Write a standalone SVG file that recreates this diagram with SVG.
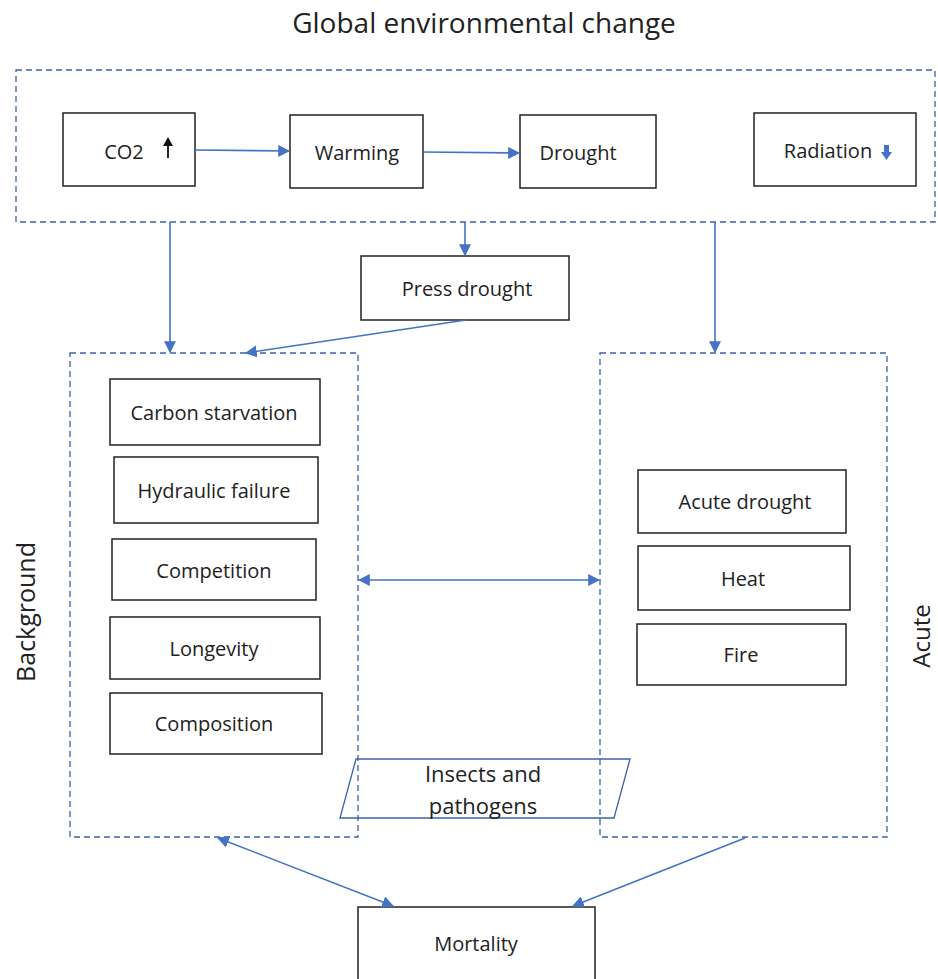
<svg xmlns="http://www.w3.org/2000/svg" width="938" height="979" viewBox="0 0 938 979">
<defs>
<marker id="ah" viewBox="0 0 10 10" refX="9" refY="5" markerWidth="12" markerHeight="12" markerUnits="userSpaceOnUse" orient="auto-start-reverse">
<path d="M0,0 L10,5 L0,10 z" fill="#4472C4"/>
</marker>
<style>
.box{fill:#fff;stroke:#222;stroke-width:1.5}
.dash{fill:none;stroke:#3A63A8;stroke-width:1.3;stroke-dasharray:6,4}
.t{font-family:"Open Sans","Liberation Sans",sans-serif;font-size:20px;fill:#222;text-anchor:middle;dominant-baseline:central}
.c{stroke:#4472C4;stroke-width:1.6;fill:none}
</style>
</defs>
<rect width="938" height="979" fill="#fff"/>
<text x="484" y="22" class="t" style="font-size:28px">Global environmental change</text>
<rect class="dash" x="16" y="70" width="919" height="152"/>
<rect class="dash" x="70" y="353" width="288" height="484"/>
<rect class="dash" x="600" y="353" width="287" height="484"/>
<text class="t" transform="translate(25,612) rotate(-90)" style="font-size:25px">Background</text>
<text class="t" transform="translate(920,636) rotate(-90)" style="font-size:24px">Acute</text>

<g id="co2"><rect class="box" x="63" y="113" width="132" height="73"/><text class="t" x="124" y="151">CO2</text>
<path d="M168,158 V143" stroke="#111" stroke-width="1.8"/><path d="M163,146 L168,137 L173,146 z" fill="#111"/></g>
<g id="warming"><rect class="box" x="290" y="115" width="133" height="73"/><text class="t" x="357" y="152">Warming</text></g>
<g id="drought"><rect class="box" x="520" y="115" width="136" height="73"/><text class="t" x="578" y="152">Drought</text></g>
<g id="radiation"><rect class="box" x="754" y="113" width="162" height="73"/><text class="t" x="828" y="150">Radiation</text>
<rect x="884" y="145" width="5" height="8" fill="#4472C4"/><path d="M881,152 L886.5,160 L892,152 z" fill="#4472C4"/></g>
<g id="press"><rect class="box" x="361" y="256" width="208" height="64"/><text class="t" x="467" y="288">Press drought</text></g>
<g id="carbon"><rect class="box" x="110" y="379" width="210" height="66"/><text class="t" x="214" y="412">Carbon starvation</text></g>
<g id="hydraulic"><rect class="box" x="114" y="457" width="204" height="66"/><text class="t" x="214" y="490">Hydraulic failure</text></g>
<g id="competition"><rect class="box" x="112" y="539" width="204" height="61"/><text class="t" x="214" y="570">Competition</text></g>
<g id="longevity"><rect class="box" x="110" y="617" width="210" height="62"/><text class="t" x="214" y="648">Longevity</text></g>
<g id="composition"><rect class="box" x="110" y="693" width="212" height="61"/><text class="t" x="214" y="723">Composition</text></g>
<g id="acutedrought"><rect class="box" x="638" y="470" width="208" height="63"/><text class="t" x="745" y="501">Acute drought</text></g>
<g id="heat"><rect class="box" x="638" y="546" width="212" height="64"/><text class="t" x="743" y="578">Heat</text></g>
<g id="fire"><rect class="box" x="637" y="624" width="209" height="61"/><text class="t" x="741" y="654">Fire</text></g>
<g id="insects"><path d="M340,818 L356,759 L630,759 L614,818 z" fill="none" stroke="#3A63A8" stroke-width="1.3"/>
<text class="t" x="483" y="773" style="font-size:22px">Insects and</text><text class="t" x="483" y="805" style="font-size:22px">pathogens</text></g>
<g id="mortality"><rect class="box" x="358" y="907" width="237" height="80"/><text class="t" x="476" y="943">Mortality</text></g>

<g id="connectors">
<line class="c" x1="195" y1="150" x2="289" y2="151" marker-end="url(#ah)"/>
<line class="c" x1="423" y1="152" x2="519" y2="153" marker-end="url(#ah)"/>
<line class="c" x1="170" y1="222" x2="170" y2="352" marker-end="url(#ah)"/>
<line class="c" x1="465" y1="222" x2="465" y2="255" marker-end="url(#ah)"/>
<line class="c" x1="715" y1="222" x2="715" y2="352" marker-end="url(#ah)"/>
<line class="c" x1="466" y1="320" x2="246" y2="353" marker-end="url(#ah)"/>
<line class="c" x1="359" y1="580" x2="599" y2="580" marker-start="url(#ah)" marker-end="url(#ah)"/>
<line class="c" x1="218" y1="838" x2="393" y2="906" marker-start="url(#ah)" marker-end="url(#ah)"/>
<line class="c" x1="745" y1="838" x2="573" y2="906" marker-end="url(#ah)"/>
</g>
</svg>
